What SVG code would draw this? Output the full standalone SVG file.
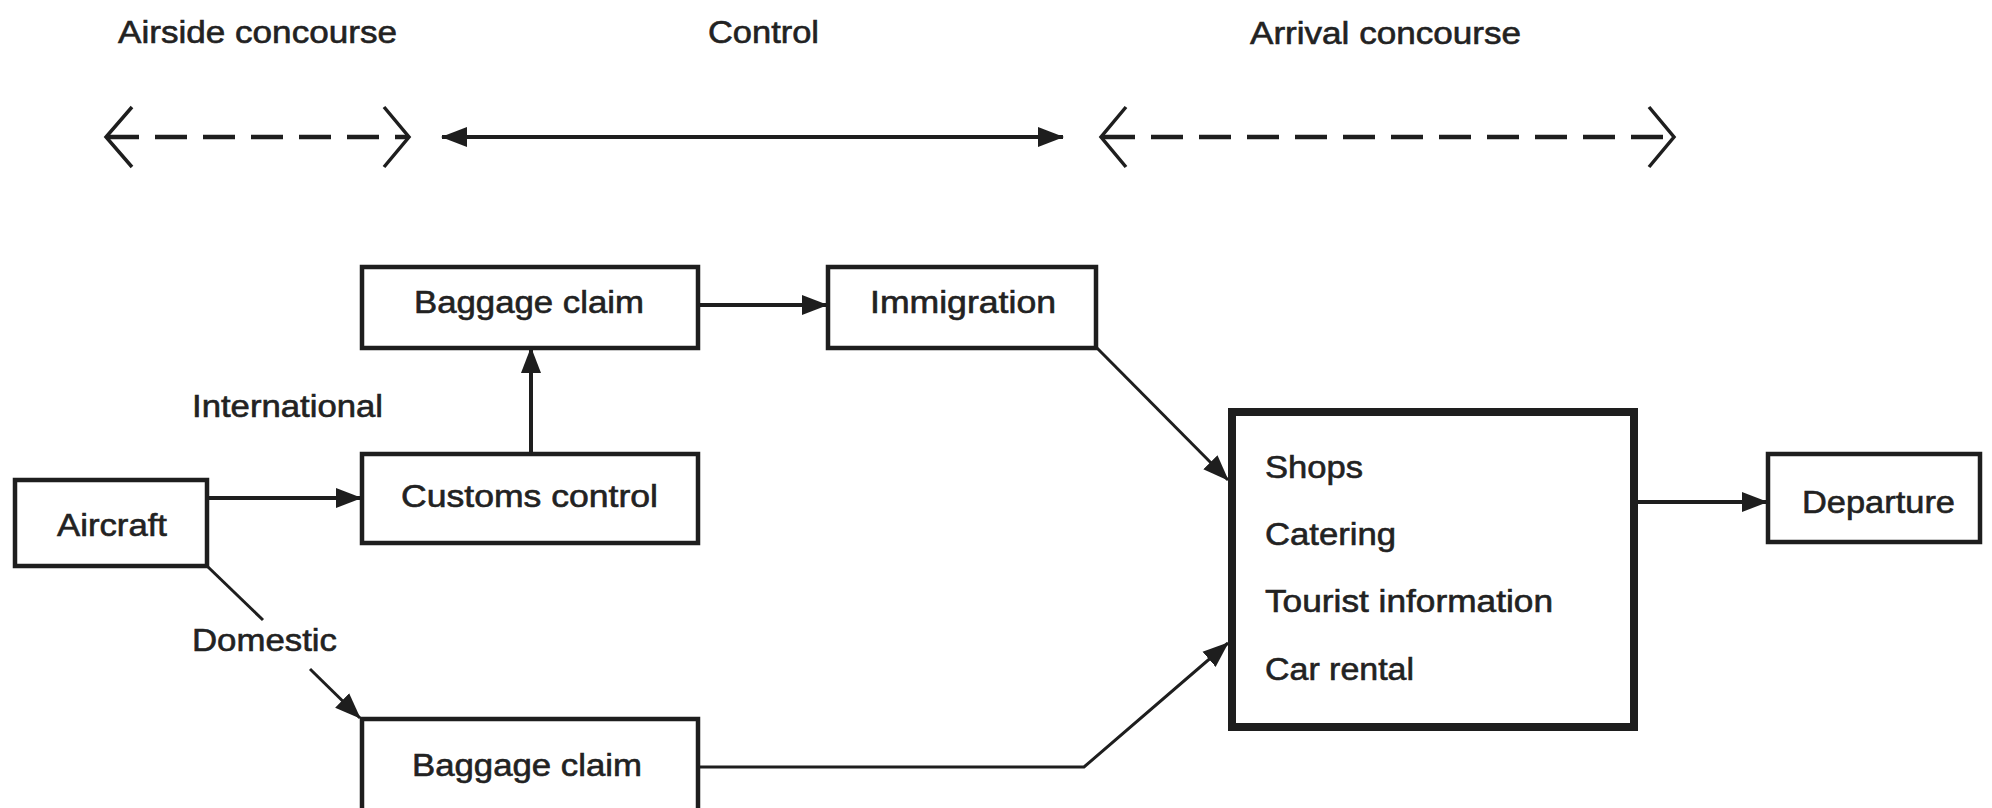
<svg xmlns="http://www.w3.org/2000/svg" width="1992" height="808" viewBox="0 0 1992 808">
<style>
.bg{fill:#ffffff}
.box{fill:#ffffff;stroke:#1e1e1e;stroke-width:4.5}
.bigbox{fill:#ffffff;stroke:#1e1e1e;stroke-width:8}
.t{font-family:"Liberation Sans",Arial,Helvetica,sans-serif;font-size:31px;fill:#222222;stroke:#222222;stroke-width:0.6}
.ln{fill:none;stroke:#1e1e1e;stroke-width:4}
.thin{fill:none;stroke:#1e1e1e;stroke-width:3}
.dash{fill:none;stroke:#1e1e1e;stroke-width:4.5;stroke-dasharray:32 16}
.chev{fill:none;stroke:#1e1e1e;stroke-width:3.5;stroke-linejoin:miter}
</style>
<defs>
<marker id="ah" markerUnits="userSpaceOnUse" markerWidth="26" markerHeight="22" viewBox="0 0 26 22" refX="25" refY="11" orient="auto-start-reverse">
<path d="M0,1 L26,11 L0,21 Z" fill="#1e1e1e"/>
</marker>
</defs>
<rect class="bg" x="0" y="0" width="1992" height="808"/>

<g id="zones">
<text class="t" x="118" y="43" textLength="279" lengthAdjust="spacingAndGlyphs">Airside concourse</text>
<text class="t" x="708" y="43" textLength="111" lengthAdjust="spacingAndGlyphs">Control</text>
<text class="t" x="1250" y="44" textLength="271" lengthAdjust="spacingAndGlyphs">Arrival concourse</text>
<line class="dash" x1="107" y1="137" x2="408" y2="137"/>
<path class="chev" d="M132,107 L106,137 L132,167"/>
<path class="chev" d="M384,107 L409,137 L384,167"/>
<line class="ln" x1="442" y1="137" x2="1063" y2="137" marker-start="url(#ah)" marker-end="url(#ah)"/>
<line class="dash" x1="1103" y1="137" x2="1672" y2="137"/>
<path class="chev" d="M1126,107 L1101,137 L1126,167"/>
<path class="chev" d="M1649,107 L1674,137 L1649,167"/>
</g>

<g id="connectors">
<line class="ln" x1="207" y1="498" x2="361" y2="498" marker-end="url(#ah)"/>
<line class="ln" x1="531" y1="454" x2="531" y2="348" marker-end="url(#ah)"/>
<line class="ln" x1="698" y1="305" x2="827" y2="305" marker-end="url(#ah)"/>
<line class="thin" x1="1096" y1="347" x2="1228" y2="480" marker-end="url(#ah)"/>
<line class="thin" x1="207" y1="566" x2="263" y2="620"/>
<line class="thin" x1="310" y1="669" x2="360" y2="718" marker-end="url(#ah)"/>
<polyline class="thin" points="698,767 1084,767 1228,643" marker-end="url(#ah)"/>
<line class="ln" x1="1638" y1="502" x2="1767" y2="502" marker-end="url(#ah)"/>
<text class="t" x="192" y="417" textLength="191" lengthAdjust="spacingAndGlyphs">International</text>
<text class="t" x="192" y="651" textLength="145" lengthAdjust="spacingAndGlyphs">Domestic</text>
</g>

<g id="aircraft">
<rect class="box" x="15" y="480" width="192" height="86"/>
<text class="t" x="57" y="536" textLength="110" lengthAdjust="spacingAndGlyphs">Aircraft</text>
</g>

<g id="baggage-claim-international">
<rect class="box" x="362" y="267" width="336" height="81"/>
<text class="t" x="414" y="313" textLength="230" lengthAdjust="spacingAndGlyphs">Baggage claim</text>
</g>

<g id="immigration">
<rect class="box" x="828" y="267" width="268" height="81"/>
<text class="t" x="870" y="313" textLength="186" lengthAdjust="spacingAndGlyphs">Immigration</text>
</g>

<g id="customs-control">
<rect class="box" x="362" y="454" width="336" height="89"/>
<text class="t" x="401" y="507" textLength="257" lengthAdjust="spacingAndGlyphs">Customs control</text>
</g>

<g id="baggage-claim-domestic">
<rect class="box" x="362" y="719" width="336" height="100"/>
<text class="t" x="412" y="776" textLength="230" lengthAdjust="spacingAndGlyphs">Baggage claim</text>
</g>

<g id="arrival-facilities">
<rect class="bigbox" x="1232" y="412" width="402" height="315"/>
<text class="t" x="1265" y="478" textLength="98" lengthAdjust="spacingAndGlyphs">Shops</text>
<text class="t" x="1265" y="545" textLength="131" lengthAdjust="spacingAndGlyphs">Catering</text>
<text class="t" x="1265" y="612" textLength="288" lengthAdjust="spacingAndGlyphs">Tourist information</text>
<text class="t" x="1265" y="680" textLength="149" lengthAdjust="spacingAndGlyphs">Car rental</text>
</g>

<g id="departure">
<rect class="box" x="1768" y="454" width="212" height="88"/>
<text class="t" x="1802" y="513" textLength="153" lengthAdjust="spacingAndGlyphs">Departure</text>
</g>
</svg>
